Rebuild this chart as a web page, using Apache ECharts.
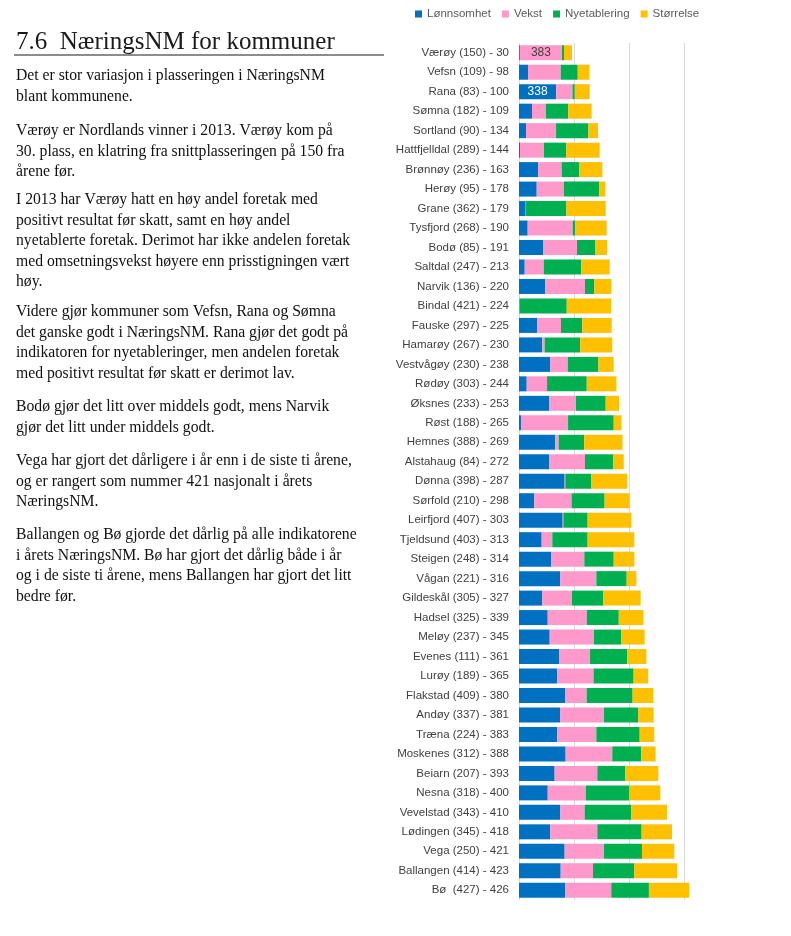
<!DOCTYPE html>
<html>
<head>
<meta charset="utf-8">
<script src="https://cdn.jsdelivr.net/npm/echarts@6/dist/echarts.min.js"></script>
<style>
html,body{margin:0;padding:0;background:#fff;}
#c{width:791px;height:936px;}
</style>
</head>
<body>
<div id="c"></div>
<script>
// ---- Data ----
const categories = [
  'Værøy (150) - 30','Vefsn (109) - 98','Rana (83) - 100','Sømna (182) - 109','Sortland (90) - 134',
  'Hattfjelldal (289) - 144','Brønnøy (236) - 163','Herøy (95) - 178','Grane (362) - 179','Tysfjord (268) - 190',
  'Bodø (85) - 191','Saltdal (247) - 213','Narvik (136) - 220','Bindal (421) - 224','Fauske (297) - 225',
  'Hamarøy (267) - 230','Vestvågøy (230) - 238','Rødøy (303) - 244','Øksnes (233) - 253','Røst (188) - 265',
  'Hemnes (388) - 269','Alstahaug (84) - 272','Dønna (398) - 287','Sørfold (210) - 298','Leirfjord (407) - 303',
  'Tjeldsund (403) - 313','Steigen (248) - 314','Vågan (221) - 316','Gildeskål (305) - 327','Hadsel (325) - 339',
  'Meløy (237) - 345','Evenes (111) - 361','Lurøy (189) - 365','Flakstad (409) - 380','Andøy (337) - 381',
  'Træna (224) - 383','Moskenes (312) - 388','Beiarn (207) - 393','Nesna (318) - 400','Vevelstad (343) - 410',
  'Lødingen (345) - 418','Vega (250) - 421','Ballangen (414) - 423','Bø  (427) - 426'
];
const lonnsomhet = [8,82,338,118,64,9,176,161,61,79,221,52,239,6,167,212,285,70,276,18,327,276,415,139,397,206,294,376,212,261,279,367,348,421,376,348,424,324,261,376,285,415,379,421];
const vekst      = [383,297,148,127,273,218,212,248,3,409,306,173,361,3,215,21,158,185,242,428,33,324,6,339,6,97,300,327,270,355,403,279,330,194,397,355,424,388,348,221,427,358,294,418];
const nyetablering = [18,155,21,203,294,203,158,321,367,24,164,342,85,425,194,324,279,361,270,415,233,258,236,300,221,321,267,276,285,291,248,339,364,418,312,394,264,255,394,424,403,345,376,342];
const storrelse  = [73,106,136,212,88,303,212,55,357,285,109,258,155,403,267,291,139,270,121,70,348,94,327,227,397,424,188,88,339,224,212,173,133,188,139,133,130,300,282,324,276,294,388,367];
const seriesNames = ['Lønnsomhet','Vekst','Nyetablering','Størrelse'];
const seriesValues = [lonnsomhet, vekst, nyetablering, storrelse];
const seriesColors = ['#0070C0','#FF99CC','#00B050','#FFC000'];
// labelled points: [seriesIndex, categoryIndex, label colour]
const labelledPoints = [[1,0,'#404040'],[0,2,'#ffffff']];

const headline = '7.6  NæringsNM for kommuner';
const paragraphs = [
  ['Det er stor variasjon i plasseringen i NæringsNM','blant kommunene.'],
  ['Værøy er Nordlands vinner i 2013. Værøy kom på','30. plass, en klatring fra snittplasseringen på 150 fra','årene før.'],
  ['I 2013 har Værøy hatt en høy andel foretak med','positivt resultat før skatt, samt en høy andel','nyetablerte foretak. Derimot har ikke andelen foretak','med omsetningsvekst høyere enn prisstigningen vært','høy.'],
  ['Videre gjør kommuner som Vefsn, Rana og Sømna','det ganske godt i NæringsNM. Rana gjør det godt på','indikatoren for nyetableringer, men andelen foretak','med positivt resultat før skatt er derimot lav.'],
  ['Bodø gjør det litt over middels godt, mens Narvik','gjør det litt under middels godt.'],
  ['Vega har gjort det dårligere i år enn i de siste ti årene,','og er rangert som nummer 421 nasjonalt i årets','NæringsNM.'],
  ['Ballangen og Bø gjorde det dårlig på alle indikatorene','i årets NæringsNM. Bø har gjort det dårlig både i år','og i de siste ti årene, mens Ballangen har gjort det litt','bedre før.']
];
const paraFirstLineY = [76,131,200,312,407,461,535];

// ---- Chart ----
const LH = 20.5;
const graphics = [
  {type:'text', left:16, top:30, style:{text:headline, font:'25px "Liberation Serif"', fill:'#1a1a1a'}},
  {type:'line', shape:{x1:14,y1:55,x2:384,y2:55}, style:{stroke:'#8c8c8c', lineWidth:2}}
];
paragraphs.forEach((p,i)=>{
  graphics.push({type:'text', left:16, top:paraFirstLineY[i]-LH/2,
    style:{text:p.join('\n'), font:'15.7px "Liberation Serif"', fill:'#111', lineHeight:LH}});
});

const series = seriesNames.map((name,si)=>({
  name, type:'bar', stack:'total', barWidth:15,
  itemStyle:{color:seriesColors[si]},
  data: seriesValues[si].map((v,ci)=>{
    const lp = labelledPoints.find(l=>l[0]===si && l[1]===ci);
    if(lp) return {value:v, label:{show:true, position:'inside', color:lp[2], fontSize:12, fontFamily:'Liberation Sans'}};
    return v;
  })
}));

const chart = echarts.init(document.getElementById('c'));
chart.setOption({
  animation:false,
  backgroundColor:'#fff',
  color: seriesColors,
  legend:{left:410, top:3, itemWidth:7, itemHeight:7, itemGap:11, icon:'rect',
    textStyle:{fontSize:11.5, color:'#595959', fontFamily:'Liberation Sans'}},
  grid:{left:519, top:43, width:176, height:857},
  xAxis:{type:'value', min:0, max:1600, interval:500,
    axisLabel:{show:false}, axisLine:{show:false}, axisTick:{show:false},
    splitLine:{show:true, showMinLine:true, showMaxLine:false, lineStyle:{color:'#d9d9d9', width:1}}},
  yAxis:{type:'category', inverse:true, data:categories,
    axisLine:{show:false}, axisTick:{show:false},
    axisLabel:{margin:10, fontSize:11.5, color:'#404040', fontFamily:'Liberation Sans'}},
  series,
  graphic: graphics
});
</script>
</body>
</html>
